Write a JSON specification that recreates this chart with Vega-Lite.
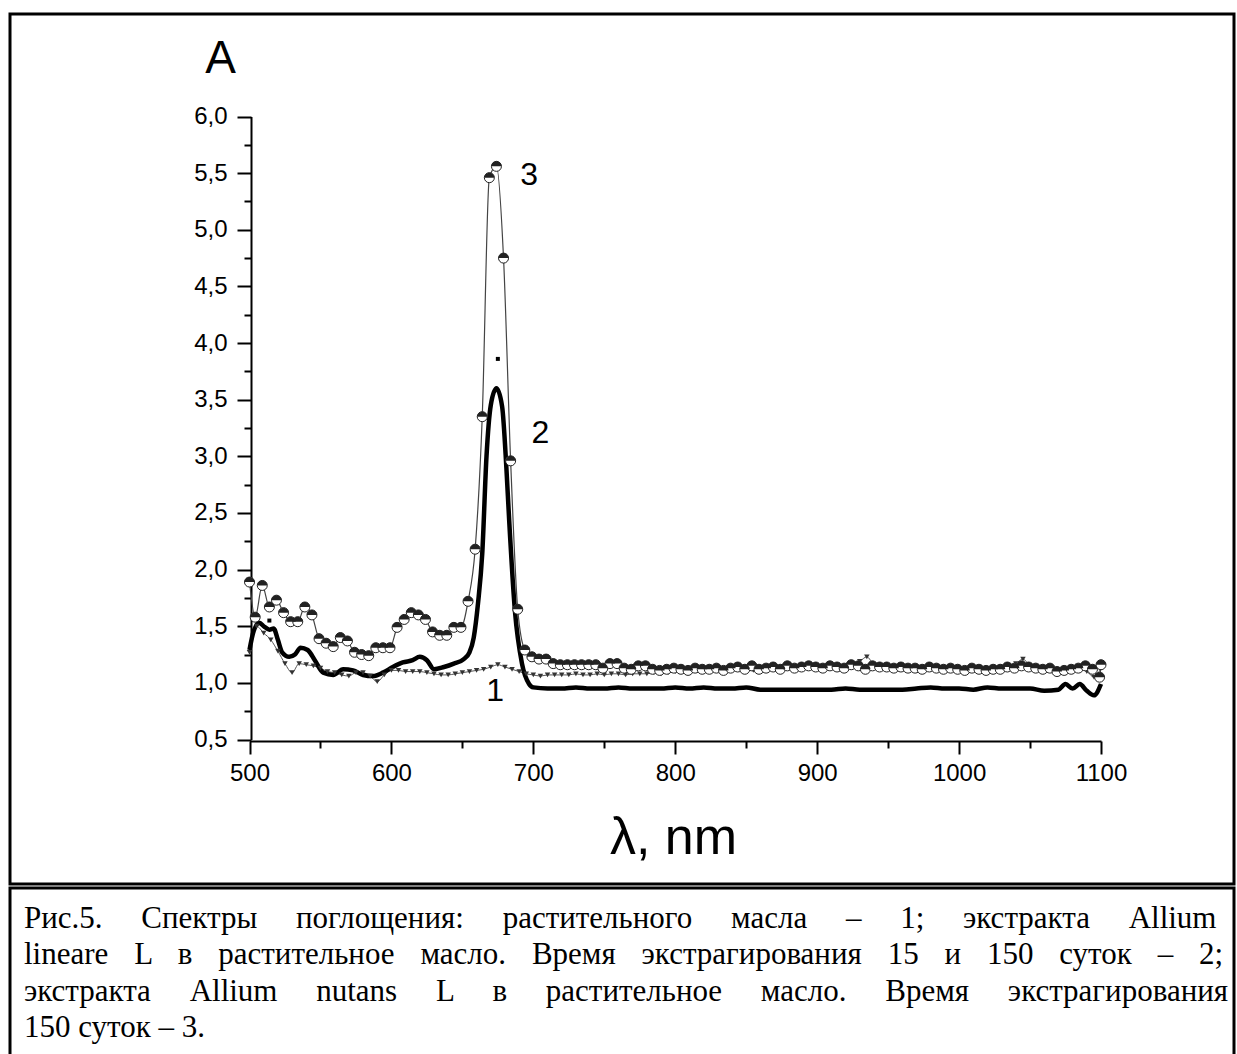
{
"$schema": "https://vega.github.io/schema/vega-lite/v6.json",
"padding": {"left": 8, "top": 12, "right": 0, "bottom": 0},
"background": "white",
"spacing": 0,
"config": {
  "font": "Liberation Sans",
  "axis": {"grid": false, "domainColor": "black", "domainWidth": 2, "tickColor": "black", "tickWidth": 2, "labelColor": "black", "labelFont": "Liberation Sans", "labelFontSize": 24, "labelFontWeight": "normal", "titleColor": "black", "titleFont": "Liberation Sans", "titleFontWeight": "normal", "labelFlush": false, "labelOverlap": false, "labelBound": false}
},
"datasets": {
  "oil": [
    {"x":500,"y":1.27},{"x":505,"y":1.50},{"x":510,"y":1.44},{"x":515,"y":1.38},{"x":520,"y":1.28},{"x":525,"y":1.17},{"x":530,"y":1.09},{"x":535,"y":1.17},{"x":540,"y":1.16},{"x":545,"y":1.15},{"x":550,"y":1.13},{"x":555,"y":1.10},{"x":560,"y":1.09},{"x":565,"y":1.07},{"x":570,"y":1.06},{"x":575,"y":1.09},{"x":580,"y":1.09},{"x":585,"y":1.06},{"x":590,"y":1.01},{"x":595,"y":1.07},{"x":600,"y":1.11},{"x":605,"y":1.11},{"x":610,"y":1.10},{"x":615,"y":1.10},{"x":620,"y":1.10},{"x":625,"y":1.09},{"x":630,"y":1.08},{"x":635,"y":1.07},{"x":640,"y":1.07},{"x":645,"y":1.08},{"x":650,"y":1.09},{"x":655,"y":1.10},{"x":660,"y":1.11},{"x":665,"y":1.12},{"x":670,"y":1.14},{"x":675,"y":1.16},{"x":680,"y":1.14},{"x":685,"y":1.12},{"x":690,"y":1.10},{"x":695,"y":1.08},{"x":700,"y":1.07},{"x":705,"y":1.06},{"x":710,"y":1.07},{"x":715,"y":1.07},{"x":720,"y":1.07},{"x":725,"y":1.07},{"x":730,"y":1.08},{"x":735,"y":1.07},{"x":740,"y":1.07},{"x":745,"y":1.08},{"x":750,"y":1.07},{"x":755,"y":1.08},{"x":760,"y":1.08},{"x":765,"y":1.07},{"x":770,"y":1.08},{"x":775,"y":1.08},{"x":780,"y":1.08},{"x":785,"y":1.09},{"x":790,"y":1.08},{"x":795,"y":1.09},{"x":800,"y":1.10},{"x":805,"y":1.10},{"x":810,"y":1.11},{"x":815,"y":1.11},{"x":820,"y":1.10},{"x":825,"y":1.12},{"x":830,"y":1.11},{"x":835,"y":1.12},{"x":840,"y":1.11},{"x":845,"y":1.12},{"x":850,"y":1.12},{"x":855,"y":1.11},{"x":860,"y":1.12},{"x":865,"y":1.12},{"x":870,"y":1.13},{"x":875,"y":1.12},{"x":880,"y":1.13},{"x":885,"y":1.12},{"x":890,"y":1.12},{"x":895,"y":1.13},{"x":900,"y":1.13},{"x":905,"y":1.12},{"x":910,"y":1.13},{"x":915,"y":1.14},{"x":920,"y":1.15},{"x":925,"y":1.16},{"x":930,"y":1.19},{"x":935,"y":1.23},{"x":940,"y":1.16},{"x":945,"y":1.14},{"x":950,"y":1.13},{"x":955,"y":1.12},{"x":960,"y":1.12},{"x":965,"y":1.12},{"x":970,"y":1.11},{"x":975,"y":1.12},{"x":980,"y":1.12},{"x":985,"y":1.11},{"x":990,"y":1.12},{"x":995,"y":1.11},{"x":1000,"y":1.11},{"x":1005,"y":1.12},{"x":1010,"y":1.12},{"x":1015,"y":1.11},{"x":1020,"y":1.12},{"x":1025,"y":1.13},{"x":1030,"y":1.12},{"x":1035,"y":1.14},{"x":1040,"y":1.17},{"x":1045,"y":1.21},{"x":1050,"y":1.15},{"x":1055,"y":1.13},{"x":1060,"y":1.12},{"x":1065,"y":1.11},{"x":1070,"y":1.10},{"x":1075,"y":1.09},{"x":1080,"y":1.10},{"x":1085,"y":1.12},{"x":1090,"y":1.10},{"x":1095,"y":1.05},{"x":1100,"y":1.13}
  ],
  "lineare": [
    {"x":500,"y":1.29},{"x":503,"y":1.46},{"x":507,"y":1.53},{"x":510,"y":1.50},{"x":514,"y":1.47},{"x":517,"y":1.48},{"x":520,"y":1.38},{"x":523,"y":1.27},{"x":528,"y":1.23},{"x":532,"y":1.25},{"x":536,"y":1.31},{"x":541,"y":1.29},{"x":546,"y":1.20},{"x":552,"y":1.09},{"x":559,"y":1.07},{"x":566,"y":1.12},{"x":573,"y":1.11},{"x":580,"y":1.07},{"x":587,"y":1.06},{"x":594,"y":1.09},{"x":601,"y":1.14},{"x":608,"y":1.18},{"x":615,"y":1.20},{"x":620,"y":1.23},{"x":625,"y":1.20},{"x":630,"y":1.12},{"x":637,"y":1.14},{"x":644,"y":1.17},{"x":651,"y":1.21},{"x":655,"y":1.27},{"x":658,"y":1.40},{"x":661,"y":1.70},{"x":664,"y":2.14},{"x":667,"y":3.0},{"x":670,"y":3.45},{"x":674,"y":3.60},{"x":678,"y":3.44},{"x":681,"y":2.9},{"x":683,"y":2.43},{"x":687,"y":1.64},{"x":692,"y":1.17},{"x":697,"y":0.99},{"x":700,"y":0.96},{"x":710,"y":0.95},{"x":720,"y":0.95},{"x":730,"y":0.96},{"x":740,"y":0.95},{"x":750,"y":0.95},{"x":760,"y":0.96},{"x":770,"y":0.95},{"x":780,"y":0.95},{"x":790,"y":0.95},{"x":800,"y":0.96},{"x":810,"y":0.95},{"x":820,"y":0.96},{"x":830,"y":0.95},{"x":840,"y":0.95},{"x":850,"y":0.96},{"x":860,"y":0.94},{"x":870,"y":0.94},{"x":880,"y":0.94},{"x":890,"y":0.94},{"x":900,"y":0.94},{"x":910,"y":0.94},{"x":920,"y":0.95},{"x":930,"y":0.94},{"x":940,"y":0.94},{"x":950,"y":0.94},{"x":960,"y":0.94},{"x":970,"y":0.95},{"x":980,"y":0.96},{"x":990,"y":0.95},{"x":1000,"y":0.95},{"x":1010,"y":0.94},{"x":1020,"y":0.96},{"x":1030,"y":0.95},{"x":1040,"y":0.95},{"x":1050,"y":0.95},{"x":1060,"y":0.93},{"x":1070,"y":0.94},{"x":1075,"y":0.99},{"x":1080,"y":0.95},{"x":1085,"y":0.99},{"x":1090,"y":0.93},{"x":1095,"y":0.89},{"x":1100,"y":0.99}
  ],
  "lineare15": [
    {"x":514,"y":1.55},{"x":675,"y":3.86}
  ],
  "nutans": [
    {"x":500,"y":1.89},{"x":504,"y":1.58},{"x":509,"y":1.86},{"x":514,"y":1.67},{"x":519,"y":1.73},{"x":524,"y":1.62},{"x":529,"y":1.54},{"x":534,"y":1.54},{"x":539,"y":1.67},{"x":544,"y":1.60},{"x":549,"y":1.39},{"x":554,"y":1.35},{"x":559,"y":1.32},{"x":564,"y":1.40},{"x":569,"y":1.37},{"x":574,"y":1.27},{"x":579,"y":1.25},{"x":584,"y":1.24},{"x":589,"y":1.31},{"x":594,"y":1.31},{"x":599,"y":1.31},{"x":604,"y":1.49},{"x":609,"y":1.56},{"x":614,"y":1.62},{"x":619,"y":1.60},{"x":624,"y":1.56},{"x":629,"y":1.45},{"x":634,"y":1.42},{"x":639,"y":1.42},{"x":644,"y":1.49},{"x":649,"y":1.49},{"x":654,"y":1.72},{"x":659,"y":2.18},{"x":664,"y":3.35},{"x":669,"y":5.46},{"x":674,"y":5.56},{"x":679,"y":4.75},{"x":684,"y":2.96},{"x":689,"y":1.65},{"x":694,"y":1.29},{"x":699,"y":1.23},{"x":704,"y":1.21},{"x":709,"y":1.21},{"x":714,"y":1.17},{"x":719,"y":1.16},{"x":724,"y":1.16},{"x":729,"y":1.16},{"x":734,"y":1.16},{"x":739,"y":1.16},{"x":744,"y":1.16},{"x":749,"y":1.13},{"x":754,"y":1.17},{"x":759,"y":1.17},{"x":764,"y":1.13},{"x":769,"y":1.12},{"x":774,"y":1.15},{"x":779,"y":1.15},{"x":784,"y":1.12},{"x":789,"y":1.11},{"x":794,"y":1.12},{"x":799,"y":1.13},{"x":804,"y":1.12},{"x":809,"y":1.11},{"x":814,"y":1.13},{"x":819,"y":1.12},{"x":824,"y":1.12},{"x":829,"y":1.13},{"x":834,"y":1.11},{"x":839,"y":1.13},{"x":844,"y":1.14},{"x":849,"y":1.12},{"x":854,"y":1.15},{"x":859,"y":1.12},{"x":864,"y":1.13},{"x":869,"y":1.14},{"x":874,"y":1.12},{"x":879,"y":1.15},{"x":884,"y":1.13},{"x":889,"y":1.14},{"x":894,"y":1.15},{"x":899,"y":1.14},{"x":904,"y":1.13},{"x":909,"y":1.15},{"x":914,"y":1.14},{"x":919,"y":1.13},{"x":924,"y":1.16},{"x":929,"y":1.15},{"x":934,"y":1.12},{"x":939,"y":1.15},{"x":944,"y":1.14},{"x":949,"y":1.14},{"x":954,"y":1.13},{"x":959,"y":1.14},{"x":964,"y":1.13},{"x":969,"y":1.13},{"x":974,"y":1.12},{"x":979,"y":1.14},{"x":984,"y":1.13},{"x":989,"y":1.12},{"x":994,"y":1.13},{"x":999,"y":1.12},{"x":1004,"y":1.11},{"x":1009,"y":1.13},{"x":1014,"y":1.12},{"x":1019,"y":1.11},{"x":1024,"y":1.12},{"x":1029,"y":1.12},{"x":1034,"y":1.14},{"x":1039,"y":1.13},{"x":1044,"y":1.15},{"x":1049,"y":1.14},{"x":1054,"y":1.13},{"x":1059,"y":1.12},{"x":1064,"y":1.13},{"x":1069,"y":1.10},{"x":1074,"y":1.11},{"x":1079,"y":1.12},{"x":1084,"y":1.13},{"x":1089,"y":1.15},{"x":1094,"y":1.12},{"x":1099,"y":1.05},{"x":1100,"y":1.16}
  ],
  "labels": [
    {"label":"3","x":697,"y":5.48},{"label":"2","x":705,"y":3.21},{"label":"1","x":673,"y":0.93}
  ],
  "caption": [
    {"line":1,"text":"Рис.5. \u2003Спектры \u2003поглощения: \u2003растительного \u2003масла \u2003– \u20031; \u2003экстракта \u2003Allium"},
    {"line":2,"text":"lineare \u2002\u200aL \u2002\u200aв \u2002\u200aрастительное \u2002\u200aмасло. \u2002\u200aВремя \u2002\u200aэкстрагирования \u2002\u200a15 \u2002\u200aи \u2002\u200a150 \u2002\u200aсуток \u2002\u200a– \u2002\u200a2;"},
    {"line":3,"text":"экстракта \u2003Allium \u2003nutans \u2003L \u2003в \u2003растительное \u2003масло. \u2003Время \u2003экстрагирования"},
    {"line":4,"text":"150 суток – 3."}
  ]
},
"vconcat": [
  {
    "width": 1224,
    "height": 870,
    "view": {"stroke": "black", "strokeWidth": 3, "fill": "white"},
    "resolve": {"axis": {"x": "independent", "y": "independent"}},
    "encoding": {
      "x": {"field": "x", "type": "quantitative",
        "scale": {"domain": [500, 1100], "range": [239.5, 1091], "nice": false, "zero": false}, "axis": null},
      "y": {"field": "y", "type": "quantitative",
        "scale": {"domain": [0.5, 6], "range": [725.5, 102.5], "nice": false, "zero": false}, "axis": null}
    },
    "layer": [
      {"data": {"name": "nutans"}, "mark": {"type": "line", "color": "#444444", "strokeWidth": 1.2, "interpolate": "monotone"},
        "encoding": {
          "x": {"field": "x", "type": "quantitative",
            "scale": {"domain": [500, 1100], "range": [239.5, 1091], "nice": false, "zero": false},
            "axis": {"orient": "bottom", "offset": -143, "values": [500,600,700,800,900,1000,1100], "format": "d", "tickSize": 13, "labelPadding": 7,
              "title": "λ, nm", "titleFontSize": 52, "titleX": 663, "titleY": 112, "titleAlign": "center", "titleBaseline": "alphabetic"}},
          "y": {"field": "y", "type": "quantitative",
            "scale": {"domain": [0.5, 6], "range": [725.5, 102.5], "nice": false, "zero": false},
            "axis": {"orient": "left", "offset": -241, "values": [0.5,1,1.5,2,2.5,3,3.5,4,4.5,5,5.5,6], "tickSize": 14, "labelPadding": 10,
              "labelExpr": "replace(format(datum.value, '.1f'), '.', ',')",
              "title": "A", "titleAngle": 0, "titleFontSize": 46, "titleX": -31, "titleY": 44, "titleAlign": "center", "titleBaseline": "middle"}}
        }},
      {"data": {"name": "oil"}, "mark": {"type": "line", "color": "#555555", "strokeWidth": 1, "interpolate": "monotone"}},
      {"data": {"name": "lineare"}, "mark": {"type": "line", "color": "black", "strokeWidth": 4.5, "interpolate": "monotone"}},
      {"data": {"name": "oil"}, "mark": {"type": "point", "shape": "triangle-down", "filled": true, "color": "#333333", "size": 30, "opacity": 1}},
      {"data": {"name": "nutans"}, "mark": {"type": "point", "shape": "circle", "filled": true, "fill": "white", "stroke": "#222222", "strokeWidth": 1, "size": 100, "opacity": 1}},
      {"data": {"name": "nutans"}, "mark": {"type": "point", "shape": "M -1 0 A 1 1 0 0 1 1 0 Z", "filled": true, "color": "#222222", "size": 100, "opacity": 1}},
      {"data": {"name": "lineare15"}, "mark": {"type": "point", "shape": "square", "filled": true, "color": "black", "size": 16, "opacity": 1}},
      {"data": {"name": "labels"}, "mark": {"type": "text", "fontSize": 32, "font": "Liberation Sans", "color": "black", "align": "center", "baseline": "middle"},
        "encoding": {
          "text": {"field": "label"},
          "x": {"field": "x", "type": "quantitative",
            "scale": {"domain": [500, 1100], "range": [239.5, 1091], "nice": false, "zero": false},
            "axis": {"orient": "bottom", "offset": -143, "values": [550,650,750,850,950,1050], "tickSize": 7, "labels": false, "domain": false, "title": null}},
          "y": {"field": "y", "type": "quantitative",
            "scale": {"domain": [0.5, 6], "range": [725.5, 102.5], "nice": false, "zero": false},
            "axis": {"orient": "left", "offset": -241, "values": [0.75,1.25,1.75,2.25,2.75,3.25,3.75,4.25,4.75,5.25,5.75], "tickSize": 7, "labels": false, "domain": false, "title": null}}
        }}
    ]
  },
  {
    "width": 1224,
    "height": 180,
    "view": {"stroke": "black", "strokeWidth": 3, "fill": "white"},
    "data": {"name": "caption"},
    "mark": {"type": "text", "font": "Liberation Serif", "fontSize": 31, "align": "left", "baseline": "middle", "color": "black", "x": 14},
    "encoding": {
      "y": {"field": "line", "type": "quantitative", "scale": {"domain": [1, 4], "range": [31, 140]}, "axis": null},
      "text": {"field": "text"}
    }
  }
]
}
